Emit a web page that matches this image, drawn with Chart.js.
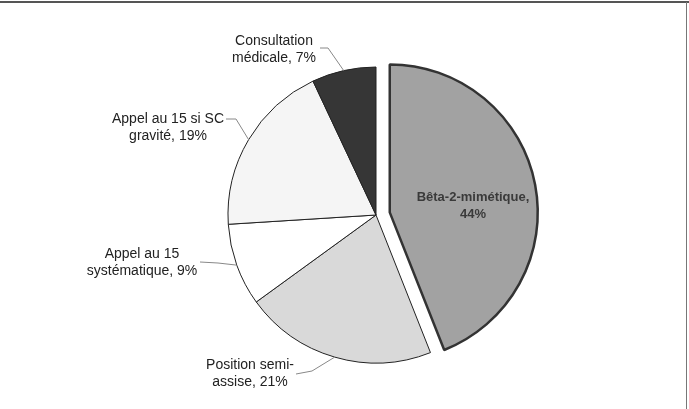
<!DOCTYPE html>
<html><head><meta charset="utf-8">
<script src="https://cdn.jsdelivr.net/npm/chart.js@4"></script>
<style>html,body{margin:0;padding:0;background:#fff;} #wrap{width:689px;height:409px;position:relative;}</style>
</head><body><div id="wrap"><canvas id="c" width="689" height="409"></canvas></div>
<script>
const categories = ["Bêta-2-mimétique", "Position semi-assise", "Appel au 15 systématique", "Appel au 15 si SC gravité", "Consultation médicale"];
const values = [44, 21, 9, 19, 7];
const labelWrap = [["Bêta-2-mimétique,", ""], ["Position semi-", "assise, "], ["Appel au 15", "systématique, "], ["Appel au 15 si SC", "gravité, "], ["Consultation", "médicale, "]];

// layout (not data)
const sliceColors = ["#a2a2a2", "#d9d9d9", "#ffffff", "#f5f5f5", "#363636"];
const explode = [14, 0, 0, 0, 0];
const labelLayout = [
  {x: 473, y: 197, inside: true},
  {x: 250, y: 365, lead: [[296, 374], [312, 371]]},
  {x: 142, y: 254, lead: [[200, 262], [218, 263]]},
  {x: 168, y: 119, lead: [[226, 119], [236, 119]]},
  {x: 274, y: 41, lead: [[320, 48], [328, 48]]}
];

const explodePlugin = {
  id: 'explode',
  afterDatasetsUpdate(chart) {
    chart.getDatasetMeta(0).data.forEach((arc, i) => {
      const d = explode[i];
      if (!d) return;
      const mid = (arc.startAngle + arc.endAngle) / 2;
      arc.x += Math.cos(mid) * d;
      arc.y += Math.sin(mid) * d;
    });
  }
};

const labelPlugin = {
  id: 'labels',
  afterDraw(chart) {
    const ctx = chart.ctx;
    const meta = chart.getDatasetMeta(0);
    ctx.save();
    // frame
    ctx.strokeStyle = '#555';
    ctx.lineWidth = 2;
    ctx.beginPath(); ctx.moveTo(0, 2); ctx.lineTo(689, 2); ctx.stroke();
    ctx.lineWidth = 1;
    ctx.strokeStyle = '#777';
    ctx.beginPath(); ctx.moveTo(686.5, 2); ctx.lineTo(686.5, 409); ctx.stroke();

    meta.data.forEach((arc, i) => {
      const L = labelLayout[i];
      const lines = [labelWrap[i][0], labelWrap[i][1] + values[i] + '%'];
      ctx.textAlign = 'center';
      ctx.textBaseline = 'middle';
      if (L.inside) {
        ctx.font = 'bold 13px "Liberation Sans", Arial, sans-serif';
        ctx.fillStyle = '#3a3a3a';
      } else {
        ctx.font = '14px "Liberation Sans", Arial, sans-serif';
        ctx.fillStyle = '#222';
      }
      lines.forEach((t, k) => ctx.fillText(t, L.x, L.y + k * 17.5));
      if (L.lead) {
        const p = arc.getProps(['x', 'y', 'startAngle', 'endAngle', 'outerRadius']);
        const mid = (p.startAngle + p.endAngle) / 2;
        const ex = p.x + p.outerRadius * Math.cos(mid);
        const ey = p.y + p.outerRadius * Math.sin(mid);
        ctx.strokeStyle = '#888';
        ctx.lineWidth = 1;
        ctx.beginPath();
        ctx.moveTo(L.lead[0][0], L.lead[0][1]);
        ctx.lineTo(L.lead[1][0], L.lead[1][1]);
        ctx.lineTo(ex, ey);
        ctx.stroke();
      }
    });
    ctx.restore();
  }
};

new Chart(document.getElementById('c'), {
  type: 'pie',
  data: {
    labels: categories,
    datasets: [{
      data: values,
      backgroundColor: sliceColors,
      borderColor: ["#333", "#222", "#222", "#222", "#222"],
      borderWidth: [2.5, 1, 1, 1, 1]
    }]
  },
  options: {
    responsive: false,
    animation: false,
    devicePixelRatio: 1,
    radius: 148,
    layout: {padding: {left: 63, top: 21, right: 0, bottom: 0}},
    plugins: {legend: {display: false}, tooltip: {enabled: false}}
  },
  plugins: [explodePlugin, labelPlugin]
});
</script>
</body></html>
